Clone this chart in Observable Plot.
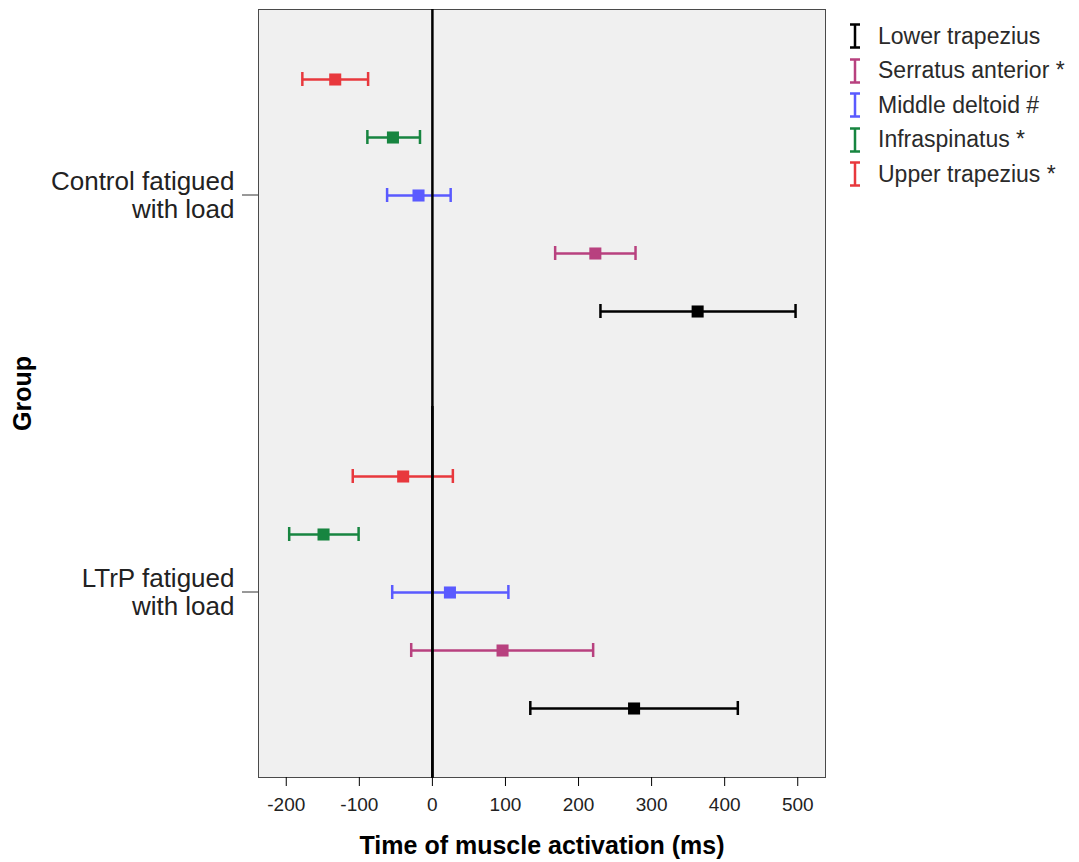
<!DOCTYPE html>
<html><head><meta charset="utf-8">
<script src="https://cdn.jsdelivr.net/npm/d3@7"></script>
<script src="https://cdn.jsdelivr.net/npm/@observablehq/plot@0.6"></script>
<style>
body{margin:0;background:#fff;font-family:"Liberation Sans",Arial,sans-serif;}
#wrap{position:relative;width:1079px;height:862px;}
#legend{position:absolute;left:848px;top:19px;}
.item{display:flex;align-items:center;height:34.5px;font-size:23px;color:#2a2a2a;white-space:nowrap;}
.item svg{margin-right:16px;flex:none}
g[aria-label="x-axis label"] text{font-weight:bold;font-size:25px;fill:#000}
g[aria-label="fy-axis label"] text{font-weight:bold;font-size:25px;fill:#000}
</style></head><body><div id="wrap"><div id="chart"></div><div id="legend"></div></div>
<script>
const groups = ["Control fatigued\nwith load", "LTrP fatigued\nwith load"];
const muscles = ["Lower trapezius", "Serratus anterior *", "Middle deltoid #", "Infraspinatus *", "Upper trapezius *"];
const colors = ["#000000", "#b8417f", "#5a5aff", "#178540", "#e8383d"];
const controlMean  = [363, 223, -19, -54, -133];
const controlLower = [230, 168, -62, -89, -178];
const controlUpper = [497, 278, 25, -17, -88];
const ltrpMean  = [276, 96, 24, -149, -40];
const ltrpLower = [134, -29, -55, -196, -109];
const ltrpUpper = [418, 220, 104, -101, 28];
const xTicks = [-200, -100, 0, 100, 200, 300, 400, 500];

const means = [controlMean, ltrpMean], lowers = [controlLower, ltrpLower], uppers = [controlUpper, ltrpUpper];
const data = [];
groups.forEach((g, gi) => muscles.forEach((m, mi) => data.push({group: g, muscle: m, mean: means[gi][mi], lo: lowers[gi][mi], hi: uppers[gi][mi]})));
const zeroTop = [{group: groups[0], x: 0}];
const zeroBottom = [{group: groups[1], x: 0}];

const plot = Plot.plot({
  width: 1079, height: 862,
  marginTop: 8, marginBottom: 84, marginLeft: 258, marginRight: 254,
  style: {fontFamily: "Liberation Sans, Arial, sans-serif", background: "transparent", color: "#222", overflow: "visible"},
  x: {domain: [-238, 538]},
  y: {domain: muscles.slice().reverse(), axis: null, paddingInner: 0.761, paddingOuter: 1.055},
  fy: {domain: groups, paddingInner: 0.0653, paddingOuter: 0},
  color: {domain: muscles, range: colors},
  marks: [
    Plot.frame({fill: "#f0f0f0", stroke: "#4a4a4a", facet: "super"}),
    Plot.ruleY(data, {y: "muscle", x1: "lo", x2: "hi", fy: "group", stroke: "muscle", strokeWidth: 2.5}),
    Plot.tickX(data, {x: "lo", y: "muscle", fy: "group", stroke: "muscle", strokeWidth: 2.5}),
    Plot.tickX(data, {x: "hi", y: "muscle", fy: "group", stroke: "muscle", strokeWidth: 2.5}),
    Plot.ruleX(zeroTop, {x: "x", fy: "group", stroke: "#000", strokeWidth: 2.5, insetBottom: -398}),
    Plot.ruleX(zeroBottom, {x: "x", fy: "group", stroke: "#000", strokeWidth: 2.5}),
    Plot.dot(data, {x: "mean", y: "muscle", fy: "group", symbol: "square", r: 6.8, fill: "muscle", stroke: "none"}),
    Plot.axisX({anchor: "bottom", ticks: xTicks, tickFormat: d => String(d), tickSize: 9, tickPadding: 11, fontSize: 19, stroke: "#000", label: "Time of muscle activation (ms)", labelAnchor: "center", labelOffset: 76, labelArrow: "none"}),
    Plot.axisFy({anchor: "left", tickSize: 16, tickPadding: 8, fontSize: 26, lineHeight: 1.1, stroke: "#333", label: "Group", labelAnchor: "center", labelOffset: 245, labelArrow: "none"})
  ]
});
document.getElementById("chart").appendChild(plot);

const legend = document.getElementById("legend");
muscles.forEach((m, i) => {
  const c = plot.scale("color").apply(m);
  const div = document.createElement("div");
  div.className = "item";
  div.innerHTML = `<svg width="14" height="26" viewBox="0 0 14 26"><path d="M2,1.5H12M7,1.5V24.5M2,24.5H12" stroke="${c}" stroke-width="2.5" fill="none"/></svg><span>${m}</span>`;
  legend.appendChild(div);
});
</script></body></html>
